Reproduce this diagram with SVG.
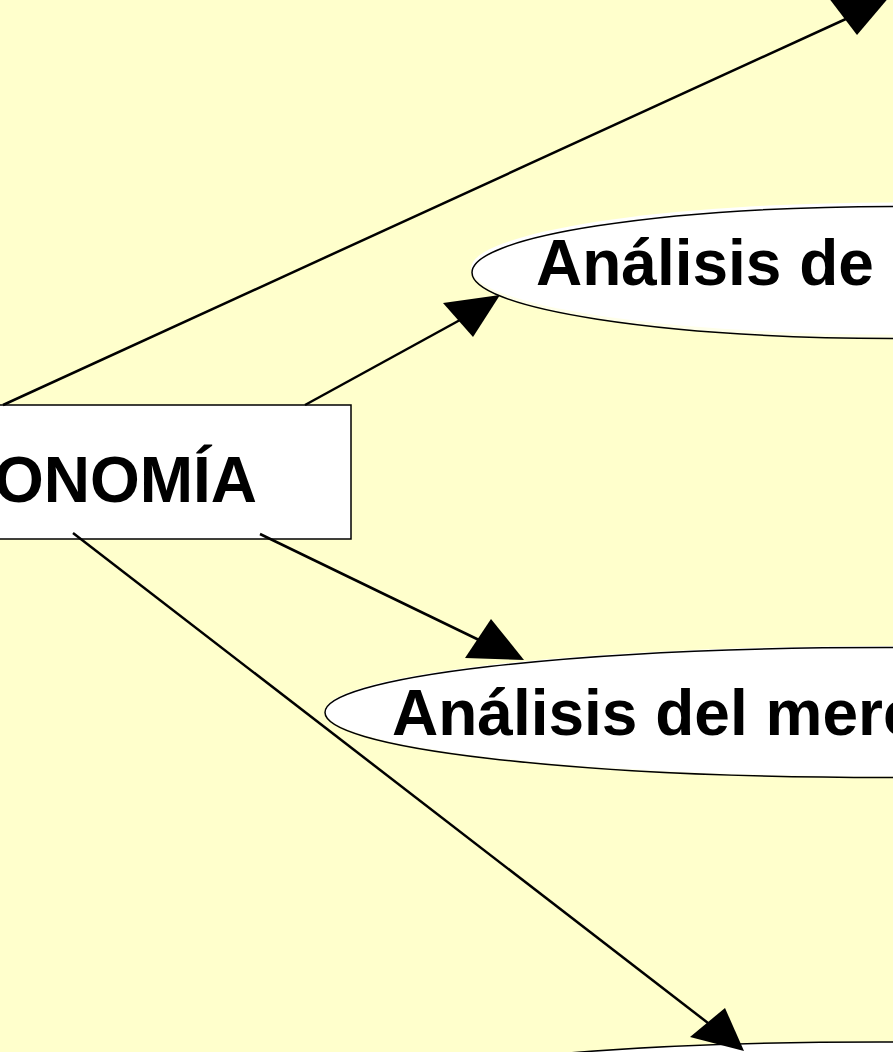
<svg xmlns="http://www.w3.org/2000/svg" width="893" height="1052" viewBox="0 0 893 1052">
<style>
.bg{fill:#FFFFCC}
.box{fill:#FFFFFF;stroke:#000000;stroke-width:1.5}
.halo{fill:#FFFFEA;stroke:none}
.fill{fill:#FFFFFF;stroke:none}
.edge{fill:none;stroke:#000000;stroke-width:1.5}
.lbl{font-family:"Liberation Sans",Arial,sans-serif;font-weight:bold;font-size:64px;fill:#000000}
.conn line{stroke:#000000;stroke-width:2.5}
.conn polygon{fill:#000000;stroke:none}
</style>
<rect class="bg" x="0" y="0" width="893" height="1052"/>
<g id="node-economia">
  <rect class="box" x="-200" y="405" width="551" height="134"/>
  <text class="lbl" x="257" y="502" text-anchor="end" font-size="62">ONOMÍA</text>
</g>
<g id="node-analisis-de">
  <ellipse class="halo" cx="900" cy="272.5" rx="428" ry="66"/>
  <ellipse class="fill" cx="899" cy="268.5" rx="428" ry="66"/>
  <ellipse class="edge" cx="900" cy="272.5" rx="428" ry="66"/>
  <text class="lbl" x="536" y="285">Análisis de</text>
</g>
<g id="node-analisis-mercado">
  <ellipse class="halo" cx="886" cy="712.5" rx="561" ry="65"/>
  <ellipse class="fill" cx="886" cy="711" rx="561" ry="65"/>
  <ellipse class="edge" cx="886" cy="712.5" rx="561" ry="65"/>
  <text class="lbl" x="392" y="735">Análisis del merc</text>
</g>
<g id="node-bottom">
  <ellipse class="fill" cx="880" cy="1108" rx="560" ry="66"/>
  <ellipse class="edge" cx="880" cy="1108" rx="560" ry="66"/>
</g>
<g id="connectors" class="conn">
  <line x1="3" y1="405" x2="848" y2="18"/>
  <polygon points="857,35 825,-7 896,-11"/>
  <line x1="305" y1="405" x2="460" y2="320"/>
  <polygon points="443,303 500,295 473,337"/>
  <line x1="260" y1="534" x2="479" y2="640"/>
  <polygon points="491,619 465,658 524,660"/>
  <line x1="73" y1="533" x2="708" y2="1023"/>
  <polygon points="725,1008 690,1037 744,1051"/>
</g>
</svg>
